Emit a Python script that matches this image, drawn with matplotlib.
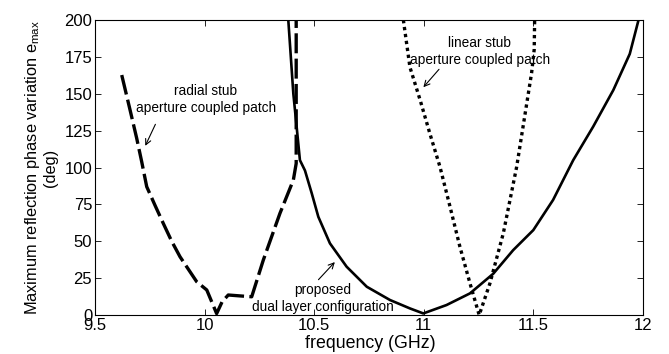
import matplotlib
matplotlib.use('Agg')
import matplotlib.pyplot as plt

plt.rcParams['font.family'] = ['Liberation Sans', 'DejaVu Sans']

# radial stub aperture coupled patch (dashed)
radial_f = [9.622, 9.66, 9.69, 9.713, 9.736, 9.775, 9.812, 9.85, 9.888, 9.964,
            10.01, 10.055, 10.08, 10.108, 10.16, 10.215, 10.268, 10.344, 10.405,
            10.418, 10.418]
radial_v = [162.7, 139, 120, 104, 87, 74, 62, 50, 39.5, 22.6,
            17, 1, 9, 13.6, 13, 12.4, 37.3, 69, 91.5,
            102.8, 200]

# proposed dual layer configuration (solid)
prop_f = [10.382, 10.405, 10.42, 10.435, 10.458, 10.489, 10.519, 10.572, 10.648, 10.74,
          10.846, 10.937, 10.998, 11.104, 11.211, 11.317, 11.408, 11.5, 11.59, 11.682,
          11.773, 11.865, 11.94, 11.98]
prop_v = [200, 150, 127.7, 105, 98, 82.5, 66.6, 48.6, 32.8, 19.2,
          10.2, 4.5, 1.1, 6.8, 14.7, 28, 44, 57.6, 78, 105,
          127.7, 152.5, 177, 200]

# linear stub aperture coupled patch (dotted)
lin_f = [10.907, 10.937, 10.983, 11.028, 11.074, 11.12, 11.165, 11.211, 11.253,
         11.302, 11.363, 11.424, 11.492, 11.504, 11.506]
lin_v = [200, 168, 146, 123, 100.5, 73.4, 46.3, 21.5, 0,
         21.5, 55.4, 100.5, 164, 180, 200]

xticks = [9.5, 10, 10.5, 11, 11.5, 12]
xticklabels = ['9.5', '10', '10.5', '11', '11.5', '12']
yticks = [0, 25, 50, 75, 100, 125, 150, 175, 200]

fig = plt.figure(figsize=(6.69, 3.54), dpi=100)
ax = fig.add_axes([0.142, 0.110, 0.819, 0.8335])

ax.plot(radial_f, radial_v, color='black', lw=2.4, dashes=(6, 1.6))
ax.plot(prop_f, prop_v, color='black', lw=1.9)
ax.plot(lin_f, lin_v, color='black', lw=2.4, linestyle=(0, (1, 1.1)), dash_capstyle='butt')

ax.set_xlim(9.5, 12)
ax.set_ylim(0, 200)
ax.set_xticks(xticks)
ax.set_xticklabels(xticklabels)
ax.set_yticks(yticks)
ax.tick_params(direction='in', top=True, right=True, length=4, width=0.6, labelsize=12,
               pad=2)
for s in ax.spines.values():
    s.set_linewidth(0.8)

ax.set_xlabel('frequency (GHz)', fontsize=12.8)
ax.xaxis.set_label_coords(0.502, -0.066)
ax.set_ylabel('Maximum reflection phase variation e$_{\\mathregular{max}}$\n(deg)',
              fontsize=11.8, linespacing=1.1)
ax.yaxis.set_label_coords(-0.068, 0.5)

# annotations
ax.annotate('', xy=(9.724, 113), xytext=(9.781, 131),
            arrowprops=dict(arrowstyle='->', color='black', lw=0.8))
ax.text(10.006, 146, 'radial stub\naperture coupled patch', ha='center', va='center',
        fontsize=9.8, linespacing=1.25)

ax.annotate('', xy=(10.99, 153), xytext=(11.078, 168),
            arrowprops=dict(arrowstyle='->', color='black', lw=0.8))
ax.text(11.256, 178.6, 'linear stub\naperture coupled patch', ha='center', va='center',
        fontsize=9.8, linespacing=1.25)

ax.annotate('', xy=(10.603, 37.3), xytext=(10.511, 22.6),
            arrowprops=dict(arrowstyle='->', color='black', lw=0.8))
ax.text(10.54, 11.3, 'proposed\ndual layer configuration', ha='center', va='center',
        fontsize=9.8, linespacing=1.25)

fig.savefig('out.png', dpi=100)
